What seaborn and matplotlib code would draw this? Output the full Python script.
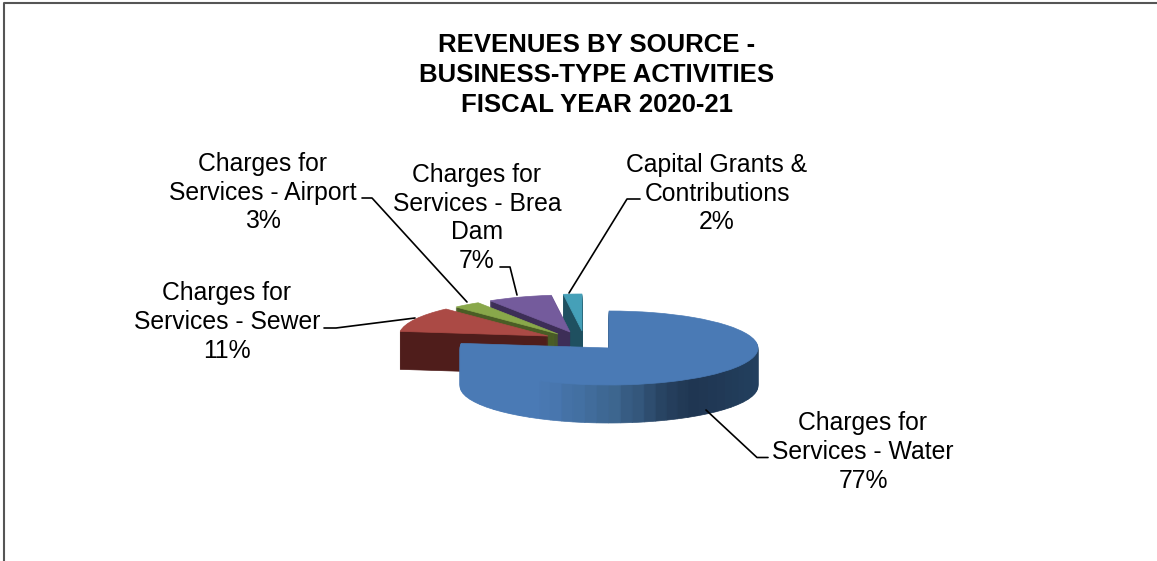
# -*- coding: utf-8 -*-
import matplotlib
matplotlib.use("Agg")
import matplotlib.pyplot as plt
import numpy as np
import seaborn as sns

#%%
# data
categories = ["Charges for\nServices - Water", "Charges for\nServices - Sewer",
              "Charges for\nServices - Airport", "Charges for\nServices - Brea\nDam",
              "Capital Grants &\nContributions"]
shares = [77, 11, 3, 7, 2]
title = "REVENUES BY SOURCE -\nBUSINESS-TYPE ACTIVITIES\nFISCAL YEAR 2020-21"

#%%
# layout, pixels of the 1157x561 picture
W, H = 1157, 561
RX, RY, DEPTH = 149, 37, 38
centers = [(609, 348), (548, 336), (558, 334), (570, 332), (582, 331)]
top_colors = ["#4a7ab5", "#ab4a45", "#89a84a", "#745b9c", "#45a0b8"]
side_colors = ["#2a4a70", "#4f1d1b", "#4a5d25", "#3d2e57", "#1f5060"]
label_xy = [(863, 452), (227, 322), (263, 192.5), (477, 218), (717, 193.5)]
leaders = [([768, 757, 706], [457.5, 457.5, 410]),
           ([324, 336, 415], [328, 328, 318]),
           ([362, 372, 467], [198, 198, 302]),
           ([500, 510, 517], [267, 267, 295]),
           ([640, 627, 569], [199, 199, 293])]

sns.set_theme(style="white")
plt.rcParams["font.family"] = ["Liberation Sans", "DejaVu Sans"]

fig = plt.figure(figsize=(W / 100, H / 100), dpi=100, facecolor="white")
ax = fig.add_axes([0, 0, 1, 1])
k = RX / RY


def yy(py):
    return (H - py) * k


def slice_pie(values, start, center, color):
    return ax.pie(values, normalize=False, startangle=start, counterclock=False,
                  center=center, radius=RX, colors=[color] * len(values),
                  wedgeprops={"linewidth": 0.5, "edgecolor": color})[0]


#%%
# slices, drawn back to front. each one is a stack of pies for the depth
gradient = sns.blend_palette(["#4a7ab5", "#4a7ab5", "#3d6690", "#1f3550", "#23405f"], 41)
angles = []
a = 90
for v in shares:
    angles.append(a)
    a -= v * 3.6

for i in [4, 3, 2, 1, 0]:
    cx, cy = centers[i]
    for d in range(DEPTH, 0, -1):
        if i == 0:
            # the water wall is shaded, so cut it in small parts
            wedges = slice_pie([shares[i] / 100 / 60] * 60, angles[i], (cx, yy(cy + d)), "k")
            for w in wedges:
                mid = np.deg2rad((w.theta1 + w.theta2) / 2)
                c = gradient[int((np.cos(mid) + 1) / 2 * 40)]
                w.set_facecolor(c)
                w.set_edgecolor(c)
        else:
            slice_pie([shares[i] / 100], angles[i], (cx, yy(cy + d)), side_colors[i])
    slice_pie([shares[i] / 100], angles[i], (cx, yy(cy)), top_colors[i])

ax.set_aspect("auto")
ax.set_xlim(0, W)
ax.set_ylim(0, H * k)
ax.axis("off")

#%%
# text, leader lines and frame on a pixel axes
ov = fig.add_axes([0, 0, 1, 1], facecolor="none")
ov.set_xlim(0, W)
ov.set_ylim(H, 0)
ov.axis("off")

ov.text(597, 75, title, ha="center", va="center", fontsize=18.5, fontweight="bold",
        color="black", linespacing=1.33)
for lab, v, (x, y) in zip(categories, shares, label_xy):
    ov.text(x, y, f"{lab}\n{v}%", ha="center", va="center", fontsize=17.8, color="black",
            linespacing=1.245)
for xs, ys in leaders:
    ov.plot(xs, ys, color="black", lw=1.2)

ov.plot([4, 4, W], [H, 2.5, 2.5], color="#555555", lw=1.5)

fig.savefig("out.png", dpi=100)
